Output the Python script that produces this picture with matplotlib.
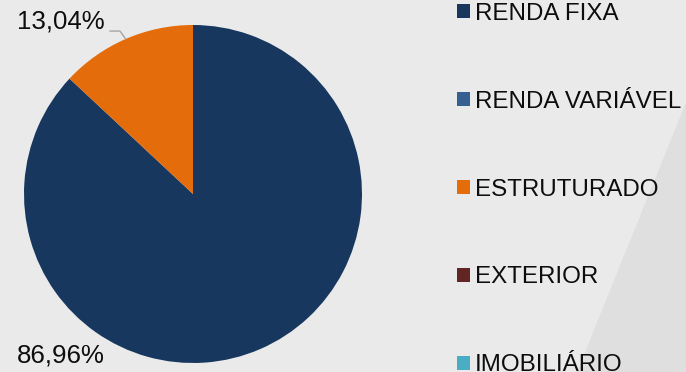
import matplotlib.pyplot as plt
import numpy as np
from matplotlib.patches import Polygon

categorias = ["RENDA FIXA", "RENDA VARIÁVEL", "ESTRUTURADO", "EXTERIOR", "IMOBILIÁRIO"]
valores = [86.96, 0.0, 13.04, 0.0, 0.0]
cores = ["#17375E", "#376092", "#E46C0A", "#632523", "#4BACC6"]

plt.rcParams['font.family'] = ['Liberation Sans', 'DejaVu Sans']

W, H = 686, 372
fig = plt.figure(figsize=(W / 100, H / 100), dpi=100, facecolor="#EAEAEA")

# fundo com faixa diagonal mais escura a direita
fig.patches.append(Polygon([(577 / W, 0), (687 / W, 1 - 100 / H), (1, 1 - 100 / H), (1, 0)],
                           closed=True, transform=fig.transFigure,
                           facecolor="#DFDFDF", edgecolor="none", zorder=-1))

cx, cy, r = 193, 194, 169
ax = fig.add_axes([(cx - r) / W, (H - cy - r) / H, 2 * r / W, 2 * r / H])
ax.set_facecolor("none")

wedges, _ = ax.pie(valores, colors=cores, startangle=90, counterclock=False,
                   radius=1, wedgeprops=dict(linewidth=0))
ax.set_xlim(-1, 1)
ax.set_ylim(-1, 1)
ax.set_aspect("equal")
ax.axis("off")


def fmt(v):
    return f"{v:.2f}".replace(".", ",") + "%"


# rotulo da fatia laranja com linha guia
w = wedges[2]
ang = np.deg2rad((w.theta1 + w.theta2) / 2)
ex, ey = np.cos(ang), np.sin(ang)
ax.plot([-0.491, -0.432, ex], [0.964, 0.964, ey], color="#A6A6A6", lw=1, clip_on=False)
ax.text(-0.52, 1.018, fmt(valores[2]), ha="right", va="center", fontsize=18.6,
        color="#0D0D0D")

# rotulo da fatia principal
ax.text(-1.041, -0.953, fmt(valores[0]), ha="left", va="center", fontsize=18.6,
        color="#0D0D0D")

leg = fig.legend(wedges, categorias, loc="center left",
                 bbox_to_anchor=(457 / W, 1 - 189.5 / H), frameon=False,
                 fontsize=17.4, labelspacing=2.73, handlelength=0.53,
                 handleheight=0.53, handletextpad=0.22, borderpad=0, borderaxespad=0)
for t in leg.get_texts():
    t.set_color("#0D0D0D")

fig.savefig("out.png", dpi=100, facecolor=fig.get_facecolor())
